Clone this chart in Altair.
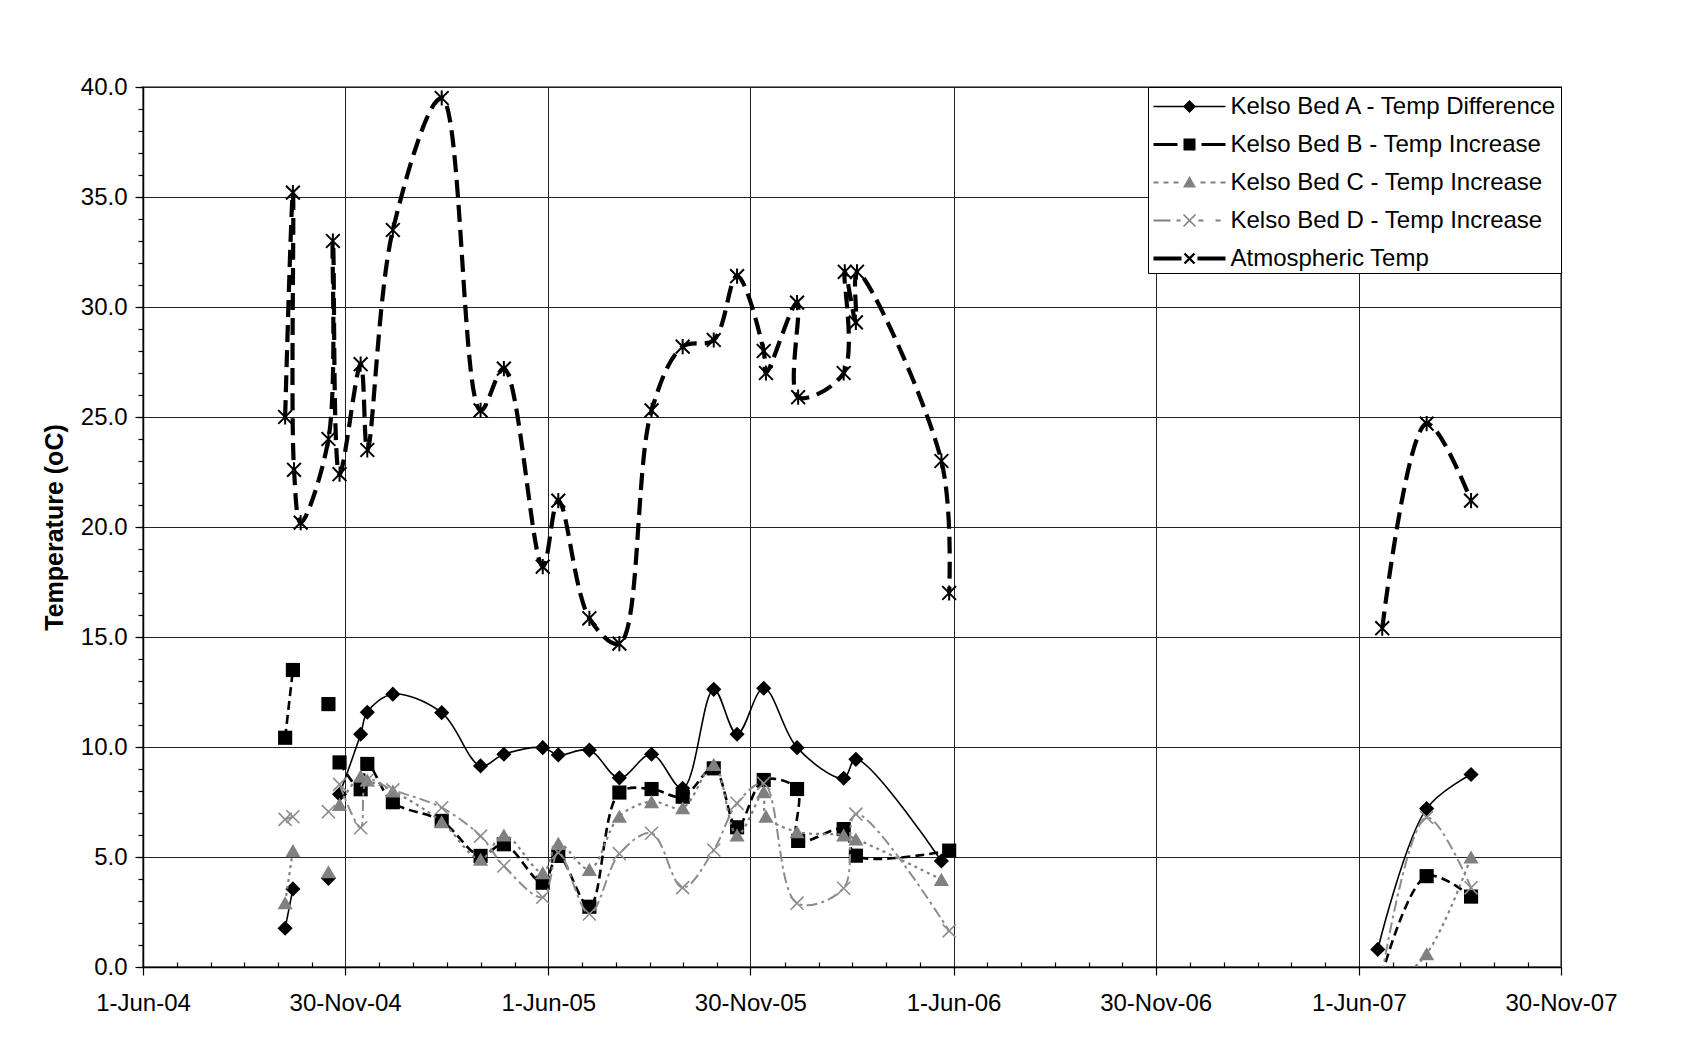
import altair as alt
import pandas as pd

# ---------------- data ----------------
names = ["Kelso Bed A - Temp Difference", "Kelso Bed B - Temp Increase",
         "Kelso Bed C - Temp Increase", "Kelso Bed D - Temp Increase",
         "Atmospheric Temp"]

a_dates = ["2004-10-07", "2004-10-14", None, "2004-11-15", None, "2004-11-25", "2004-12-14",
           "2004-12-20", "2005-01-12", "2005-02-25", "2005-04-01", "2005-04-22", "2005-05-27",
           "2005-06-10", "2005-07-08", "2005-08-04", "2005-09-02", "2005-09-30", "2005-10-28",
           "2005-11-18", "2005-12-12", "2006-01-11", "2006-02-22", "2006-03-05", "2006-05-21",
           None, "2007-06-18", "2007-08-01", "2007-09-10"]
a_vals = [1.76, 3.55, None, 4.03, None, 7.85, 10.58, 11.58, 12.4, 11.56, 9.14, 9.67, 9.97,
          9.64, 9.86, 8.6, 9.67, 8.12, 12.62, 10.58, 12.67, 9.97, 8.58, 9.44, 4.82,
          None, 0.8, 7.2, 8.75]

b_dates = ["2004-10-07", "2004-10-14", None, "2004-11-15", None, "2004-11-25", "2004-12-14",
           "2004-12-20", "2005-01-12", "2005-02-25", "2005-04-01", "2005-04-22", "2005-05-27",
           "2005-06-10", "2005-07-08", "2005-08-04", "2005-09-02", "2005-09-30", "2005-10-28",
           "2005-11-18", "2005-12-12", "2006-01-11", "2006-01-12", "2006-02-22", "2006-03-05",
           "2006-05-28", None, "2007-06-18", "2007-08-01", "2007-09-10"]
b_vals = [10.42, 13.5, None, 11.95, None, 9.3, 8.08, 9.23, 7.49, 6.64, 5.05, 5.58, 3.83,
          5.05, 2.74, 7.93, 8.09, 7.74, 9.03, 6.35, 8.5, 8.09, 5.73, 6.27, 5.06,
          5.29, None, -1.0, 4.13, 3.2]

c_dates = ["2004-10-07", "2004-10-14", None, "2004-11-15", None, "2004-11-25", "2004-12-14",
           "2004-12-20", "2005-01-12", "2005-02-25", "2005-04-01", "2005-04-22", "2005-05-27",
           "2005-06-10", "2005-07-08", "2005-08-04", "2005-09-02", "2005-09-30", "2005-10-28",
           "2005-11-18", "2005-12-12", "2005-12-14", "2006-01-11", "2006-02-22", "2006-03-05",
           "2006-05-21", None, "2007-06-18", "2007-08-01", "2007-09-10"]
c_vals = [2.92, 5.29, None, 4.33, None, 7.39, 8.68, 8.5, 8.0, 6.6, 4.9, 6.0, 4.29,
          5.62, 4.44, 6.85, 7.52, 7.24, 9.21, 6.0, 7.97, 6.86, 6.15, 6.0, 5.82,
          3.98, None, -1.4, 0.6, 5.0]

d_dates = ["2004-10-07", "2004-10-14", None, "2004-11-15", None, "2004-11-25", "2004-12-14",
           "2004-12-20", "2005-01-12", "2005-02-25", "2005-04-01", "2005-04-22", "2005-05-27",
           "2005-06-10", "2005-07-08", "2005-08-04", "2005-09-02", "2005-09-30", "2005-10-28",
           "2005-11-18", "2005-12-12", "2006-01-11", "2006-02-22", "2006-03-05", "2006-05-28",
           None, "2007-06-18", "2007-08-01", "2007-09-10"]
d_vals = [6.71, 6.83, None, 7.06, None, 8.3, 6.33, 8.5, 8.05, 7.24, 5.95, 4.59, 3.17,
          5.2, 2.41, 5.15, 6.08, 3.61, 5.32, 7.44, 8.35, 2.9, 3.58, 6.95, 1.64,
          None, -1.4, 6.8, 3.6]

atm_dates = ["2004-10-07", "2004-10-14", "2004-10-15", "2004-10-21", "2004-11-15", "2004-11-19",
             "2004-11-25", "2004-12-14", "2004-12-20", "2005-01-12", "2005-02-25", "2005-04-01",
             "2005-04-22", "2005-05-27", "2005-06-10", "2005-07-08", "2005-08-04", "2005-09-02",
             "2005-09-30", "2005-10-28", "2005-11-18", "2005-12-12", "2005-12-14", "2006-01-11",
             "2006-01-12", "2006-02-22", "2006-02-23", "2006-03-05", "2006-03-06", "2006-05-21",
             "2006-05-28", None, "2007-06-22", "2007-08-01", "2007-09-10"]
atm_vals = [25.0, 35.2, 22.6, 20.2, 24.0, 33.0, 22.4, 27.4, 23.5, 33.5, 39.5, 25.3,
            27.2, 18.2, 21.2, 15.85, 14.7, 25.3, 28.2, 28.5, 31.4, 28.0, 27.0, 30.2,
            25.9, 27.0, 31.6, 29.3, 31.6, 23.0, 17.0, None, 15.4, 24.7, 21.2]

major_ticks = ["2004-06-01", "2004-11-30", "2005-06-01", "2005-11-30",
               "2006-06-01", "2006-11-30", "2007-06-01", "2007-11-30"]
y_major = [0, 5, 10, 15, 20, 25, 30, 35, 40]

# ---------------- table ----------------
rows = []
for name, ds, vs in zip(names, [a_dates, b_dates, c_dates, d_dates, atm_dates],
                        [a_vals, b_vals, c_vals, d_vals, atm_vals]):
    seg = 0
    for d, v in zip(ds, vs):
        if v is None:
            seg += 1
            continue
        rows.append({"series": name, "seg": seg, "date": d, "value": v})
df = pd.DataFrame(rows)


def ms(s):
    return int(pd.Timestamp(s, tz="UTC").value // 10**6)


x0, x1 = ms(major_ticks[0]), ms(major_ticks[-1])
major_ms = [ms(t) for t in major_ticks]
day = 86400000
minor_ms = [int(x0 + i * 182.5 / 6 * day) for i in range(43) if i % 6 != 0]

# ---------------- styles ----------------
FONT = "Liberation Sans"
GRAY = "#808080"
styles = [
    dict(color="black", width=1.6, dash=None, shape="diamond", filled=True, size=230, sw=1),
    dict(color="black", width=2.6, dash=[9, 5], shape="square", filled=True, size=200, sw=1),
    dict(color=GRAY, width=2.2, dash=[3, 4], shape="triangle-up", filled=True, size=230, sw=1),
    dict(color="#8c8c8c", width=2.0, dash=[11, 4, 3, 4], shape="M-1,-1L1,1M-1,1L1,-1",
         filled=False, size=170, sw=1.6),
    dict(color="black", width=4.2, dash=[17, 8], shape="M-1,-1L1,1M-1,1L1,-1M0,-1.1L0,1.1",
         filled=False, size=190, sw=2.0),
]

xs = alt.Scale(type="utc", domain=[x0, x1], nice=False)
ys = alt.Scale(domain=[0, 40], nice=False, zero=False)

layers = []
for name, st in zip(names, styles):
    base = alt.Chart(df).transform_filter(alt.datum.series == name)
    lkw = dict(interpolate="catmull-rom", color=st["color"], strokeWidth=st["width"], clip=True)
    if st["dash"]:
        lkw["strokeDash"] = st["dash"]
    line = base.mark_line(**lkw).encode(
        x=alt.X("date:T", scale=xs, axis=None),
        y=alt.Y("value:Q", scale=ys, axis=None),
        detail="seg:N",
    )
    pkw = dict(shape=st["shape"], filled=st["filled"], size=st["size"], color=st["color"],
               opacity=1, clip=True, strokeWidth=st["sw"])
    pts = base.mark_point(**pkw).encode(
        x=alt.X("date:T", scale=xs, axis=None),
        y=alt.Y("value:Q", scale=ys, axis=None),
    )
    layers += [line, pts]

# ---------------- legend symbols (line + marker drawn as filled paths) ----------------
SYM = 35.0
U = SYM / 2  # px per path unit


def _orient(pts):
    a = sum(pts[i][0] * pts[(i + 1) % len(pts)][1] - pts[(i + 1) % len(pts)][0] * pts[i][1]
            for i in range(len(pts)))
    return pts if a > 0 else pts[::-1]


def poly(pts):
    pts = _orient(pts)
    return "M" + "L".join(f"{x / U:.3f},{y / U:.3f}" for x, y in pts) + "Z"


def bar(xa, xb, h):
    return poly([(xa, -h), (xb, -h), (xb, h), (xa, h)])


def seg(xa, ya, xb, yb, t):
    dx, dy = xb - xa, yb - ya
    n = (dx * dx + dy * dy) ** 0.5
    ox, oy = -dy / n * t / 2, dx / n * t / 2
    return poly([(xa + ox, ya + oy), (xb + ox, yb + oy), (xb - ox, yb - oy), (xa - ox, ya - oy)])


sym_paths = [
    bar(-36, 36, 0.8) + poly([(0, -6.5), (6.5, 0), (0, 6.5), (-6.5, 0)]),
    bar(-36, -12, 1.4) + bar(12, 36, 1.4) + poly([(-6, -6), (6, -6), (6, 6), (-6, 6)]),
    "".join(bar(a, a + 5, 1.0) for a in (-36, -26, -16, 11, 21, 31))
    + poly([(0, -6.5), (6.5, 5), (-6.5, 5)]),
    bar(-36, -19, 1.0) + bar(-13, -9, 1.0) + bar(9, 14, 1.0) + bar(26, 31, 1.0)
    + seg(-6, -6, 6, 6, 1.6) + seg(-6, 6, 6, -6, 1.6),
    bar(-36, -8, 2.0) + bar(8, 36, 2.0) + seg(-5, -5, 5, 5, 2.4) + seg(-5, 5, 5, -5, 2.4),
]
sym_colors = ["black", "black", GRAY, GRAY, "black"]

leg = alt.Legend(title=None, orient="top-right", offset=0, labelFont=FONT, labelFontSize=24,
                 labelColor="black", labelLimit=500, symbolSize=SYM * SYM, symbolStrokeWidth=0,
                 rowPadding=8.0, padding=2, symbolOffset=22, labelOffset=23.5,
                 strokeColor="black", fillColor="white")

axis_layer = alt.Chart(df).transform_filter("false").mark_point(filled=True, opacity=1).encode(
    x=alt.X("date:T", scale=xs, axis=alt.Axis(
        orient="bottom", values=major_ms, labelExpr="utcFormat(datum.value, '%-d-%b-%y')",
        title=None, tickSize=8, grid=True, labelFontSize=24, labelPadding=16,
        labelOverlap=False, labelFlush=False)),
    y=alt.Y("value:Q", scale=ys, axis=alt.Axis(
        orient="left", values=y_major, format=".1f", title="Temperature (oC)",
        titleFontSize=25, titleFontWeight="bold", titlePadding=13, tickSize=8, grid=True,
        labelFontSize=24, labelPadding=8, labelOverlap=False)),
    color=alt.Color("series:N", scale=alt.Scale(domain=names, range=sym_colors), legend=leg),
    shape=alt.Shape("series:N", scale=alt.Scale(domain=names, range=sym_paths), legend=leg),
)

minor_layer = alt.Chart(df).transform_filter("false").mark_point().encode(
    x=alt.X("date:T", scale=xs, axis=alt.Axis(
        orient="bottom", values=minor_ms, labels=False, title=None, tickSize=5, grid=False,
        domain=False, offset=-5)),
    y=alt.Y("value:Q", scale=ys, axis=alt.Axis(
        orient="left", values=list(range(41)), labels=False, title=None, tickSize=5,
        grid=False, domain=False)),
)

chart = alt.layer(axis_layer, minor_layer, *layers).resolve_axis(
    x="independent", y="independent"
).properties(
    width=1418, height=880,
    autosize=alt.AutoSizeParams(type="none"),
    padding={"left": 135, "top": 79, "right": 126, "bottom": 60},
    background="white",
).configure_view(
    stroke="#808080", strokeWidth=2
).configure_axis(
    labelFont=FONT, titleFont=FONT, labelColor="black", titleColor="black",
    tickColor="black", domainColor="black", domainWidth=1.5, tickWidth=1.2,
    gridColor="#222222", gridWidth=1, gridOpacity=1,
)

chart.save("out.html", embed_options={"renderer": "svg", "actions": False})
